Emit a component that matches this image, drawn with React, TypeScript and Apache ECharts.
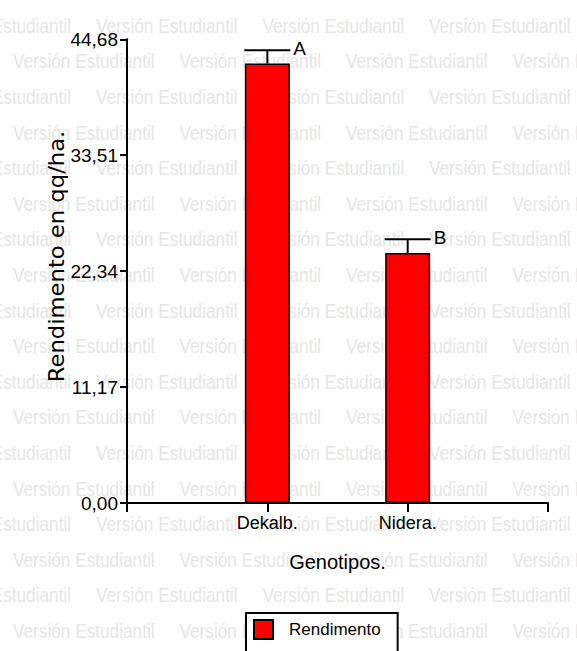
import React, { useEffect, useRef } from "react";
import * as echarts from "echarts";

// Genotypes and mean yield (qq/ha) with the upper error (SE) and Tukey letters
const categories = ["Dekalb.", "Nidera."];
const rendimento = [42.34, 24.1];
const errorSE = [1.28, 1.32];
const letters = ["A", "B"];

// Y axis scale: 0 .. 44,68 in steps of 11,17
const yMax = 44.68;
const yStep = 11.17;

const W = 577;
const H = 651;
const FONT = "'Liberation Sans', Arial, Helvetica, sans-serif";
const WIDE = "'DejaVu Sans', Verdana, sans-serif";

// Light repeated "Versión Estudiantil" stamp behind the plot
function watermark(): any[] {
  const items: any[] = [];
  const period = 166.5;
  const rowGap = 35.6;
  for (let r = 0; r < 19; r++) {
    const baseline = 33 + rowGap * r;
    const start = r % 2 === 0 ? 96 - period : 13 - period;
    for (let x = start; x < W; x += period) {
      items.push({
        type: "text",
        x,
        y: baseline - 7.4,
        scaleX: 0.82,
        z: -10,
        silent: true,
        style: {
          text: "Versión Estudiantil",
          fill: "#e6e6e6",
          font: `21px ${FONT}`,
          align: "left",
          verticalAlign: "middle",
        },
      });
    }
  }
  return items;
}

export default function App() {
  const ref = useRef<HTMLDivElement>(null);

  useEffect(() => {
    if (!ref.current) return;
    const chart = echarts.init(ref.current, undefined, { renderer: "svg" });

    const barData = rendimento.map((v, i) => [i + 1, v]);
    const errData = rendimento.map((v, i) => [i + 1, v, v + errorSE[i], i]);

    chart.setOption({
      animation: false,
      backgroundColor: "#ffffff",
      graphic: [
        ...watermark(),
        {
          type: "text",
          x: 57,
          y: 256.5,
          rotation: Math.PI / 2,
          scaleX: 1.08,
          z: 10,
          style: {
            text: "Rendimento en qq/ha.",
            fill: "#000",
            font: `21px ${WIDE}`,
            align: "center",
            verticalAlign: "middle",
          },
        },
      ],
      grid: { left: 127, top: 39.3, right: W - 548, bottom: H - 503, containLabel: false },
      legend: {
        show: true,
        left: 246,
        top: 613,
        padding: [6, 17, 30, 7],
        backgroundColor: "#ffffff",
        borderColor: "#000",
        borderWidth: 2,
        borderRadius: 0,
        itemWidth: 19,
        itemHeight: 19,
        icon: "rect",
        data: ["Rendimento"],
        textStyle: {
          color: "#000",
          fontSize: 17,
          fontFamily: FONT,
          padding: [0, 0, 0, 11],
        },
      },
      xAxis: {
        type: "value",
        min: 0,
        max: 3,
        interval: 1,
        name: "Genotipos.",
        nameLocation: "middle",
        nameGap: 49,
        nameTextStyle: { color: "#000", fontSize: 20, fontFamily: FONT },
        splitLine: { show: false },
        axisLine: { show: true, onZero: false, lineStyle: { color: "#000", width: 2 } },
        axisTick: { show: true, length: 9, lineStyle: { color: "#000", width: 2 } },
        axisLabel: {
          color: "#000",
          fontSize: 18,
          fontFamily: FONT,
          margin: 11,
          formatter: (v: number) => categories[v - 1] ?? "",
        },
      },
      yAxis: {
        type: "value",
        min: 0,
        max: yMax,
        interval: yStep,
        splitLine: { show: false },
        axisLine: { show: true, lineStyle: { color: "#000", width: 2 } },
        axisTick: { show: true, length: 7, lineStyle: { color: "#000", width: 2 } },
        axisLabel: {
          color: "#000",
          fontSize: 19,
          fontFamily: FONT,
          margin: 9,
          formatter: (v: number) => v.toFixed(2).replace(".", ","),
        },
      },
      series: [
        {
          name: "Rendimento",
          type: "bar",
          barWidth: 45,
          data: barData,
          itemStyle: { color: "#ff0000", borderColor: "#000", borderWidth: 1.5 },
        },
        {
          name: "error",
          type: "custom",
          z: 5,
          data: errData,
          renderItem: (params: any, api: any) => {
            const x = api.value(0);
            const mean = api.value(1);
            const upper = api.value(2);
            const idx = api.value(3);
            const base = api.coord([x, mean]);
            const top = api.coord([x, upper]);
            const half = 23;
            return {
              type: "group",
              children: [
                {
                  type: "line",
                  shape: { x1: base[0], y1: base[1], x2: top[0], y2: top[1] },
                  style: { stroke: "#000", lineWidth: 2 },
                },
                {
                  type: "line",
                  shape: { x1: top[0] - half, y1: top[1], x2: top[0] + half, y2: top[1] },
                  style: { stroke: "#000", lineWidth: 2 },
                },
                {
                  type: "text",
                  x: top[0] + half + 3,
                  y: top[1] - 2,
                  style: {
                    text: letters[idx],
                    fill: "#000",
                    font: `19px ${FONT}`,
                    align: "left",
                    verticalAlign: "middle",
                  },
                },
              ],
            };
          },
        },
      ],
    });

    return () => chart.dispose();
  }, []);

  return (
    <div
      ref={ref}
      style={{ position: "fixed", left: 0, top: 0, width: W, height: H, background: "#fff" }}
    />
  );
}
